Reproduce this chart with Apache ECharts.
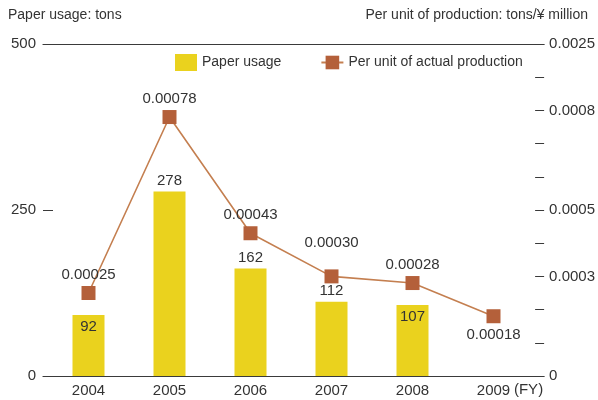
<!DOCTYPE html>
<html>
<head>
<meta charset="utf-8">
<script src="https://cdn.jsdelivr.net/npm/echarts@6/dist/echarts.min.js"></script>
<style>
  html, body { margin: 0; padding: 0; background: #fff; }
  #chart { width: 598px; height: 400px; }
</style>
</head>
<body>
<div id="chart"></div>
<script>
const years = ['2004', '2005', '2006', '2007', '2008', '2009'];
const paperUsage = [92, 278, 162, 112, 107, null];
const perUnit = [0.00025, 0.00078, 0.00043, 0.00030, 0.00028, 0.00018];
const perUnitText = ['0.00025', '0.00078', '0.00043', '0.00030', '0.00028', '0.00018'];
const leftTicks = [0, 250, 500];
// right axis labels as printed on the original (top one reads 0.0025)
const rightTickLabels = ['0', '', '', '0.0003', '', '0.0005', '', '', '0.0008', '', '0.0025'];

const font = 'Liberation Sans, Arial, Helvetica, sans-serif';
const ink = '#333';

const chart = echarts.init(document.getElementById('chart'));

const barLabelInside = { '2004': true, '2008': true };

const barData = paperUsage.map((v, i) => ({
    value: v,
    label: barLabelInside[years[i]]
        ? { position: 'insideTop', distance: 4 }
        : { position: 'top', distance: 3 },
}));

const lineData = perUnit.map((v, i) => {
    let label = { position: 'top', distance: 4 };
    if (years[i] === '2009') label = { position: 'bottom', distance: 4 };
    if (years[i] === '2007') label = { position: 'top', distance: 19 };
    return { value: v, label: label };
});

const option = {
    animation: false,
    textStyle: { fontFamily: font, color: ink },
    title: [
        { text: 'Paper usage: tons', left: 8, top: 8, padding: 0,
          textStyle: { fontSize: 14, fontWeight: 'normal', color: ink, fontFamily: font } },
        { text: 'Per unit of production: tons/¥ million', right: 10, top: 8, padding: 0,
          textStyle: { fontSize: 14, fontWeight: 'normal', color: ink, fontFamily: font } },
    ],
    legend: {
        left: 175,
        top: 54,
        padding: 0,
        itemGap: 39,
        itemWidth: 22,
        itemHeight: 17,
        textStyle: { fontSize: 14, color: ink, fontFamily: font },
        data: [
            { name: 'Paper usage', icon: 'rect' },
            { name: 'Per unit of actual production' },
        ],
    },
    grid: [
        { left: 48, right: 64, top: 44, bottom: 24 },
        { left: 43, right: 52, top: 44, bottom: 24 },
    ],
    xAxis: [
        {
            type: 'category', gridIndex: 0, data: years,
            axisLine: { show: false }, axisTick: { show: false },
            axisLabel: { fontSize: 15, color: ink, margin: 7, fontFamily: font },
        },
        {
            type: 'value', gridIndex: 1, position: 'bottom', min: 0, max: 1,
            axisLine: { show: true, onZero: false, lineStyle: { color: '#3a3a3a', width: 1.2 } },
            axisTick: { show: false }, axisLabel: { show: false }, splitLine: { show: false },
            name: '(FY)', nameLocation: 'end', nameGap: -1,
            nameTextStyle: { align: 'right', verticalAlign: 'top', padding: [6, 0, 0, 0],
                             fontSize: 15, color: ink, fontFamily: font },
        },
        {
            type: 'value', gridIndex: 1, position: 'top', min: 0, max: 1,
            axisLine: { show: true, onZero: false, lineStyle: { color: '#3a3a3a', width: 1.2 } },
            axisTick: { show: false }, axisLabel: { show: false }, splitLine: { show: false },
        },
    ],
    yAxis: [
        { type: 'value', gridIndex: 0, min: 0, max: 500, show: false },
        { type: 'value', gridIndex: 0, min: 0, max: 0.001, show: false },
        {
            type: 'value', gridIndex: 1, position: 'left', min: 0, max: 500, interval: 250,
            axisLine: { show: false, onZero: false },
            axisTick: { show: true, inside: true, length: 10, lineStyle: { color: '#3a3a3a' } },
            axisLabel: { fontSize: 15, color: ink, margin: 7, fontFamily: font,
                         formatter: v => leftTicks.indexOf(v) >= 0 ? String(v) : '' },
            splitLine: { show: false },
        },
        {
            type: 'value', gridIndex: 1, position: 'right', min: 0, max: 0.001, interval: 0.0001,
            axisLine: { show: false, onZero: false },
            axisTick: { show: true, inside: true, length: 9, lineStyle: { color: '#3a3a3a' } },
            axisLabel: { fontSize: 15, color: ink, margin: 5, fontFamily: font,
                         formatter: v => rightTickLabels[Math.round(v / 0.0001)] || '' },
            splitLine: { show: false },
        },
    ],
    series: [
        {
            name: 'Paper usage',
            type: 'bar',
            xAxisIndex: 0, yAxisIndex: 0,
            barWidth: 32,
            itemStyle: { color: '#ead21e' },
            label: { show: true, fontSize: 15, color: ink, fontFamily: font },
            data: barData,
        },
        {
            name: 'Per unit of actual production',
            type: 'line',
            xAxisIndex: 0, yAxisIndex: 1,
            symbol: 'rect',
            symbolSize: 14,
            itemStyle: { color: '#b4603a' },
            lineStyle: { color: '#c47f50', width: 1.6 },
            label: { show: true, fontSize: 15, color: ink, fontFamily: font,
                     formatter: p => perUnitText[p.dataIndex] },
            data: lineData,
            z: 3,
        },
    ],
};

chart.setOption(option);
</script>
</body>
</html>
